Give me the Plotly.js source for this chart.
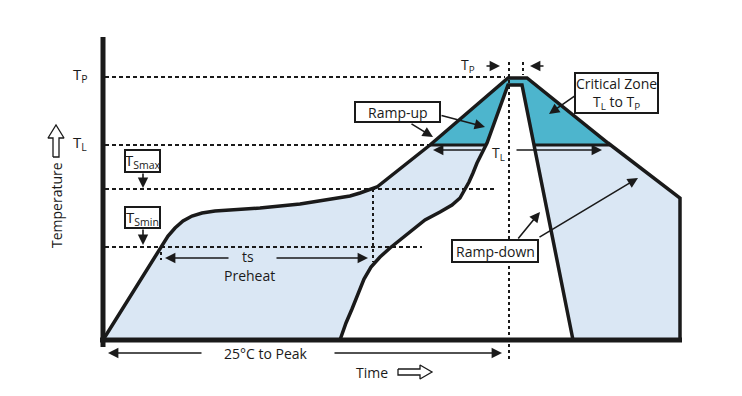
<!DOCTYPE html>
<html>
<head>
<meta charset="utf-8">
<script src="https://cdn.plot.ly/plotly-3.0.1.min.js"></script>
<style>html,body{margin:0;padding:0;background:#fff;}#chart{width:742px;height:396px;}</style>
</head>
<body>
<div id="chart"></div>
<script>
// ---- Temperature levels (arbitrary schematic units) ----
const T_P = 263, T_L = 195, T_SMAX = 151, T_SMIN = 93;

// ---- Outer (upper limit) profile ----
const outerTime = [0, 60, 65, 72, 80, 89, 99, 112, 127, 157, 197, 237, 247, 257, 265, 274, 327, 405, 424, 505, 577, 577];
const outerTemp = [0, 95, 104, 112, 119, 124, 127, 129, 130, 132, 136, 142, 144, 147, 150, 153, 195, 262, 262, 197, 142, 0];

// ---- Inner (lower limit) profile ----
const innerTime = [237, 243, 249, 255, 261, 268, 277, 287, 297, 309, 322, 337, 349, 357, 362, 366, 370, 374, 379, 384, 405, 419, 470];
const innerTemp = [0, 17, 31, 47, 61, 73, 83, 92, 100, 110, 120, 128, 135, 142, 150, 158, 167, 177, 187, 197, 255, 255, 0];

// ---- Dashed reference levels ----
const refLevels = [T_P, T_L, T_SMAX, T_SMIN];
const refEndTime = [402, 327, 394, 319];

// ---- Dotted vertical guides ----
const guideTime = [270, 406, 420, 58];
const guideFrom = [T_SMAX, 278, 278, 94];
const guideTo = [78, -22, 265, 80];

// ---- Axis extents ----
const axisTopTemp = 303, axisEndTime = 577;

// ---- Arrow annotations: tail -> head ----
const arrowTailT = [382, 442, 380, 412, 337, 307, 473, 414, 435, 40, 40, 127, 172, 100, 230];
const arrowTailY = [274, 274, 190, 190, 225, 217, 245, 100, 102, 168, 112, 82, 82, -13, -13];
const arrowHeadT = [397, 427, 330, 499, 382, 330, 446, 437, 535, 40, 40, 62, 265, 5, 399];
const arrowHeadY = [274, 274, 190, 190, 213, 203, 226, 128, 162, 152, 95, 82, 82, -13, -13];

// ---- Label boxes ----
const boxLabels = ["Ramp-up", "Critical Zone<br>T<sub>L</sub> to T<sub>P</sub>", "Ramp-down", "T<sub>Smax</sub>", "T<sub>Smin</sub>"];
const boxT0 = [252, 472, 349, 22, 22];
const boxT1 = [337, 555, 435, 57, 57];
const boxY0 = [218, 227, 78, 168, 112];
const boxY1 = [238, 267, 100, 190, 133];

// ---- Free text labels ----
const textLabels = ["T<sub>P</sub>", "T<sub>L</sub>", "ts", "Preheat", "25°C to Peak", "Time", "T<sub>P</sub>", "T<sub>L</sub>"];
const textT = [-23, -23, 145, 146, 163, 269, 365, 395];
const textY = [265, 197, 84, 65, -13, -32, 275, 187];

// ---- Hollow direction arrows ----
const tempArrowT = [-50, -44, -44, -39, -47, -55, -50, -50];
const tempArrowY = [183, 183, 202, 202, 215, 202, 202, 183];
const timeArrowT = [295, 317, 317, 329, 317, 317, 295, 295];
const timeArrowY = [-29, -29, -25, -32, -39, -35, -35, -29];

// ---- helpers ----
function clipAbove(ts, Ys, level) {
  const n = ts.length, rt = [], ry = [];
  for (let i = 0; i < n; i++) {
    const j = (i + 1) % n;
    const ci = Ys[i] >= level, cj = Ys[j] >= level;
    const cross = () => ts[i] + (level - Ys[i]) / (Ys[j] - Ys[i]) * (ts[j] - ts[i]);
    if (ci && cj) { rt.push(ts[j]); ry.push(Ys[j]); }
    else if (ci && !cj) { rt.push(cross()); ry.push(level); }
    else if (!ci && cj) { rt.push(cross()); ry.push(level); rt.push(ts[j]); ry.push(Ys[j]); }
  }
  rt.push(rt[0]); ry.push(ry[0]);
  return {t: rt, y: ry};
}
function crossings(ts, Ys, level) {
  const out = [];
  for (let i = 0; i < ts.length - 1; i++) {
    const a = Ys[i] - level, b = Ys[i + 1] - level;
    if (a === 0) out.push(ts[i]);
    else if (a * b < 0) out.push(ts[i] + (level - Ys[i]) / (Ys[i + 1] - Ys[i]) * (ts[i + 1] - ts[i]));
  }
  return out;
}

const LIGHT = '#dae7f4', TEAL = '#4db5cd', INK = '#1a1a1a';
const FONT = 'Open Sans, Noto Sans, sans-serif';

const traces = [];
// Light-blue process window
traces.push({x: outerTime.concat([outerTime[0]]), y: outerTemp.concat([outerTemp[0]]), mode: 'lines', fill: 'toself', fillcolor: LIGHT, line: {width: 0, color: LIGHT}, hoverinfo: 'skip'});
// Critical zone (above T_L)
const crit = clipAbove(outerTime, outerTemp, T_L);
traces.push({x: crit.t, y: crit.y, mode: 'lines', fill: 'toself', fillcolor: TEAL, line: {width: 0, color: TEAL}, hoverinfo: 'skip'});
// Inner white gap
traces.push({x: innerTime.concat([innerTime[0]]), y: innerTemp.concat([innerTemp[0]]), mode: 'lines', fill: 'toself', fillcolor: '#ffffff', line: {width: 0, color: '#ffffff'}, hoverinfo: 'skip'});

// Dashed levels
refLevels.forEach((lv, i) => {
  traces.push({x: [2, refEndTime[i]], y: [lv, lv], mode: 'lines', line: {color: INK, width: 2, dash: '4px,3px'}, hoverinfo: 'skip'});
});
// Dotted guides
guideTime.forEach((g, i) => {
  traces.push({x: [g, g], y: [guideFrom[i], guideTo[i]], mode: 'lines', line: {color: INK, width: 2, dash: '3px,3px'}, hoverinfo: 'skip'});
});

// T_L edge of critical zone
const oc = crossings(outerTime, outerTemp, T_L);
const ic = crossings(innerTime, innerTemp, T_L);
traces.push({x: [oc[0], ic[0], null, ic[ic.length - 1], oc[oc.length - 1]], y: [T_L, T_L, null, T_L, T_L], mode: 'lines', line: {color: INK, width: 3}, hoverinfo: 'skip'});

// Profile outlines
traces.push({x: outerTime, y: outerTemp, mode: 'lines', line: {color: INK, width: 3.5, shape: 'linear'}, hoverinfo: 'skip'});
traces.push({x: innerTime, y: innerTemp, mode: 'lines', line: {color: INK, width: 3.5, shape: 'linear'}, hoverinfo: 'skip'});

// Axes
traces.push({x: [0, 0], y: [axisTopTemp, -7], mode: 'lines', line: {color: INK, width: 5}, hoverinfo: 'skip'});
traces.push({x: [-3, axisEndTime + 2], y: [0, 0], mode: 'lines', line: {color: INK, width: 5}, hoverinfo: 'skip'});

// Hollow arrows
traces.push({x: tempArrowT, y: tempArrowY, mode: 'lines', fill: 'toself', fillcolor: '#fff', line: {color: INK, width: 1.3}, hoverinfo: 'skip'});
traces.push({x: timeArrowT, y: timeArrowY, mode: 'lines', fill: 'toself', fillcolor: '#fff', line: {color: INK, width: 1.3}, hoverinfo: 'skip'});

const shapes = boxLabels.map((_, i) => ({type: 'rect', xref: 'x', yref: 'y', x0: boxT0[i], x1: boxT1[i], y0: boxY0[i], y1: boxY1[i], line: {color: INK, width: 2}, fillcolor: '#fff', layer: 'above'}));

const annotations = [];
arrowTailT.forEach((_, i) => {
  annotations.push({x: arrowHeadT[i], y: arrowHeadY[i], ax: arrowTailT[i], ay: arrowTailY[i], axref: 'x', ayref: 'y', xref: 'x', yref: 'y', text: '', showarrow: true, arrowhead: 2, arrowsize: 1.3, arrowwidth: 1.6, arrowcolor: INK, standoff: 0});
});
boxLabels.forEach((lab, i) => {
  const small = i >= 3;
  annotations.push({x: (boxT0[i] + boxT1[i]) / 2, y: (boxY0[i] + boxY1[i]) / 2, xref: 'x', yref: 'y', text: lab, showarrow: false, font: {family: FONT, size: small ? 15 : 14, color: INK}, xanchor: 'center', yanchor: 'middle'});
});
textLabels.forEach((lab, i) => {
  annotations.push({x: textT[i], y: textY[i], xref: 'x', yref: 'y', text: lab, showarrow: false, font: {family: FONT, size: i < 2 ? 15 : 14, color: INK}, xanchor: 'center', yanchor: 'middle'});
});
annotations.push({x: -47, y: 135, xref: 'x', yref: 'y', text: 'Temperature', textangle: -90, showarrow: false, font: {family: FONT, size: 14, color: INK}, xanchor: 'center', yanchor: 'middle'});

const layout = {
  width: 742, height: 396,
  margin: {l: 0, r: 0, t: 0, b: 0},
  paper_bgcolor: '#fff', plot_bgcolor: '#fff',
  showlegend: false,
  xaxis: {range: [-103, 639], visible: false, fixedrange: true},
  yaxis: {range: [-56, 340], visible: false, fixedrange: true},
  shapes: shapes,
  annotations: annotations
};
Plotly.newPlot('chart', traces, layout, {displayModeBar: false, staticPlot: true});
</script>
</body>
</html>
